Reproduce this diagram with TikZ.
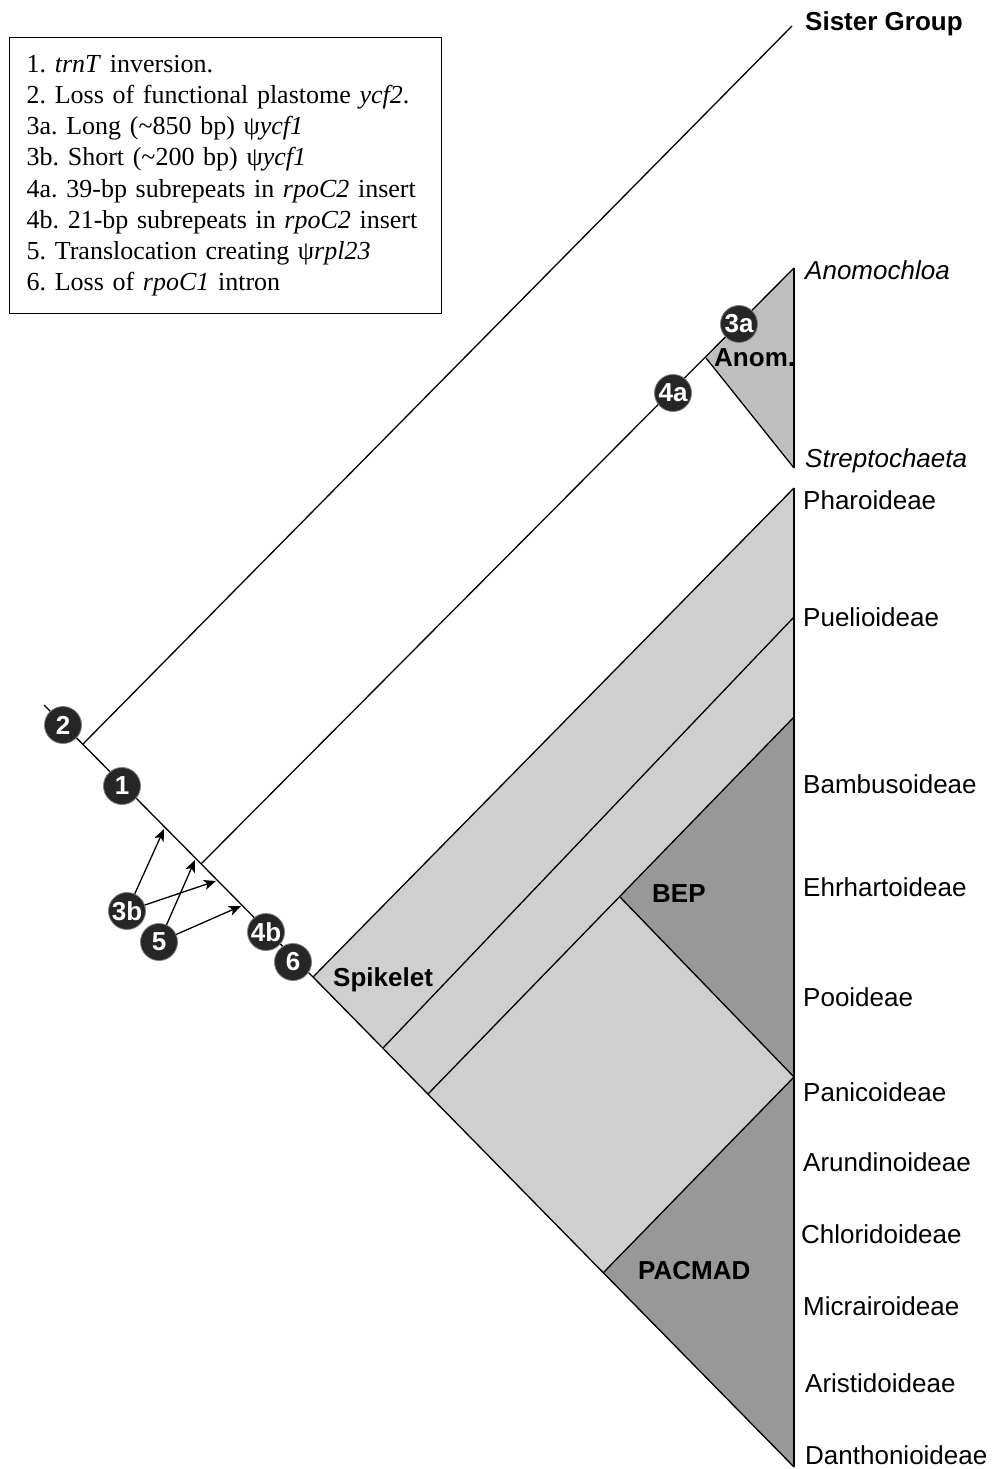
\documentclass[tikz,border=0pt]{standalone}
\usepackage{fontspec}
\setmainfont{Liberation Serif}
\setsansfont{Liberation Sans}
\usetikzlibrary{arrows.meta}
\definecolor{lightclade}{HTML}{CFCFCF}
\definecolor{anomfill}{HTML}{BFBFBF}
\definecolor{darkclade}{HTML}{989898}
\definecolor{markfill}{HTML}{262626}
\frenchspacing
\begin{document}
\begin{tikzpicture}[x=1pt,y=-1pt,
  branch/.style={line width=1.3pt, line join=round},
  tipline/.style={line width=1.8pt},
  marker/.style={circle, fill=markfill, draw=gray, line width=0.8pt, minimum size=37pt, inner sep=0pt, text=white, font=\sffamily\bfseries\fontsize{26}{26}\selectfont},
  taxon/.style={anchor=base west, inner sep=0pt, font=\sffamily\fontsize{26}{26}\selectfont},
  clade/.style={anchor=base west, inner sep=0pt, font=\sffamily\bfseries\fontsize{26}{26}\selectfont},
  evt/.style={-{Stealth[length=12pt,width=10pt,inset=3pt]}, line width=1.3pt}
]
\useasboundingbox (0,0) rectangle (991,1469);
\fill[white] (0,0) rectangle (991,1469);

% coordinates
\coordinate (bstart) at (44,705);
\coordinate (sisj) at (83,744);
\coordinate (sistip) at (792,26);
\coordinate (anomj) at (201,864);
\coordinate (spk) at (313,977);
\coordinate (anomtop) at (794,268);
\coordinate (anomapex) at (706,358);
\coordinate (anombot) at (794,468);
\coordinate (phartop) at (794,488);
\coordinate (puelbase) at (383,1048);
\coordinate (pueltop) at (794,617);
\coordinate (bepbase) at (428,1094);
\coordinate (beptop) at (794,717);
\coordinate (bepapex) at (620,897);
\coordinate (pan) at (794,1077);
\coordinate (pacapex) at (603,1273);
\coordinate (bottom) at (794,1467);
% arrow targets
\coordinate (tA) at (164,829);
\coordinate (tB) at (195,860);
\coordinate (tC) at (216,881);
\coordinate (tD) at (241,906);

% fills
\fill[lightclade] (spk) -- (phartop) -- (bottom) -- cycle;
\fill[darkclade] (bepapex) -- (beptop) -- (pan) -- cycle;
\fill[darkclade] (pacapex) -- (pan) -- (bottom) -- cycle;
\fill[anomfill] (anomapex) -- (anomtop) -- (anombot) -- cycle;

% branches
\draw[branch] (bstart) -- (spk) -- (bottom);
\draw[branch] (sisj) -- (sistip);
\draw[branch] (anomj) -- (anomtop);
\draw[branch] (anomapex) -- (anombot);
\draw[branch] (spk) -- (phartop);
\draw[branch] (puelbase) -- (pueltop);
\draw[branch] (bepbase) -- (beptop);
\draw[branch] (bepapex) -- (pan);
\draw[branch] (pan) -- (pacapex);
\draw[tipline] (anomtop) -- (anombot);
\draw[tipline] (phartop) -- (bottom);

% event markers
\node[marker] (m2) at (63,725) {2};
\node[marker] (m1) at (122,786) {1};
\node[marker] (m3b) at (127,911) {3b};
\node[marker] (m5) at (159,942) {5};
\node[marker] (m4b) at (266,932) {4b};
\node[marker] (m6) at (293,962) {6};
\node[marker] (m4a) at (673,393) {4a};
\node[marker] (m3a) at (739,324) {3a};

\draw[evt] (m3b) -- (tA);
\draw[evt] (m3b) -- (tC);
\draw[evt] (m5) -- (tB);
\draw[evt] (m5) -- (tD);

% clade labels
\node[clade] (lanom) at (714,366) {Anom.};
\node[clade] (lspk) at (333,986) {Spikelet};
\node[clade] (lbep) at (652,902) {BEP};
\node[clade] (lpac) at (638,1279) {PACMAD};

% taxa
\node[clade] (tsis) at (805,31) {Sister Group};
\node[taxon] (tano) at (805,279) {\itshape Anomochloa};
\node[taxon] (tstr) at (805,467) {\itshape Streptochaeta};
\node[taxon] (tpha) at (803,509) {Pharoideae};
\node[taxon] (tpue) at (803,626) {Puelioideae};
\node[taxon] (tbam) at (803,793) {Bambusoideae};
\node[taxon] (tehr) at (803,896) {Ehrhartoideae};
\node[taxon] (tpoo) at (803,1006) {Pooideae};
\node[taxon] (tpan) at (803,1101) {Panicoideae};
\node[taxon] (taru) at (803,1171) {Arundinoideae};
\node[taxon] (tchl) at (801,1243) {Chloridoideae};
\node[taxon] (tmic) at (803,1315) {Micrairoideae};
\node[taxon] (tari) at (805,1392) {Aristidoideae};
\node[taxon] (tdan) at (805,1464) {Danthonioideae};

% legend
\node[draw, line width=1.3pt, anchor=north west, inner xsep=17pt, inner ysep=0pt,
      text width=398pt, minimum height=276pt, align=left,
      font=\rmfamily\fontsize{26}{31.1}\selectfont] (legend) at (9,37) {%
1. \textit{trnT} inversion.\\
2. Loss of functional plastome \textit{ycf2}.\\
3a. Long (\textasciitilde 850 bp) ψ\textit{ycf1}\\
3b. Short (\textasciitilde 200 bp) ψ\textit{ycf1}\\
4a. 39-bp subrepeats in \textit{rpoC2} insert\\
4b. 21-bp subrepeats in \textit{rpoC2} insert\\
5. Translocation creating ψ\textit{rpl23}\\
6. Loss of \textit{rpoC1} intron};
\end{tikzpicture}
\end{document}
